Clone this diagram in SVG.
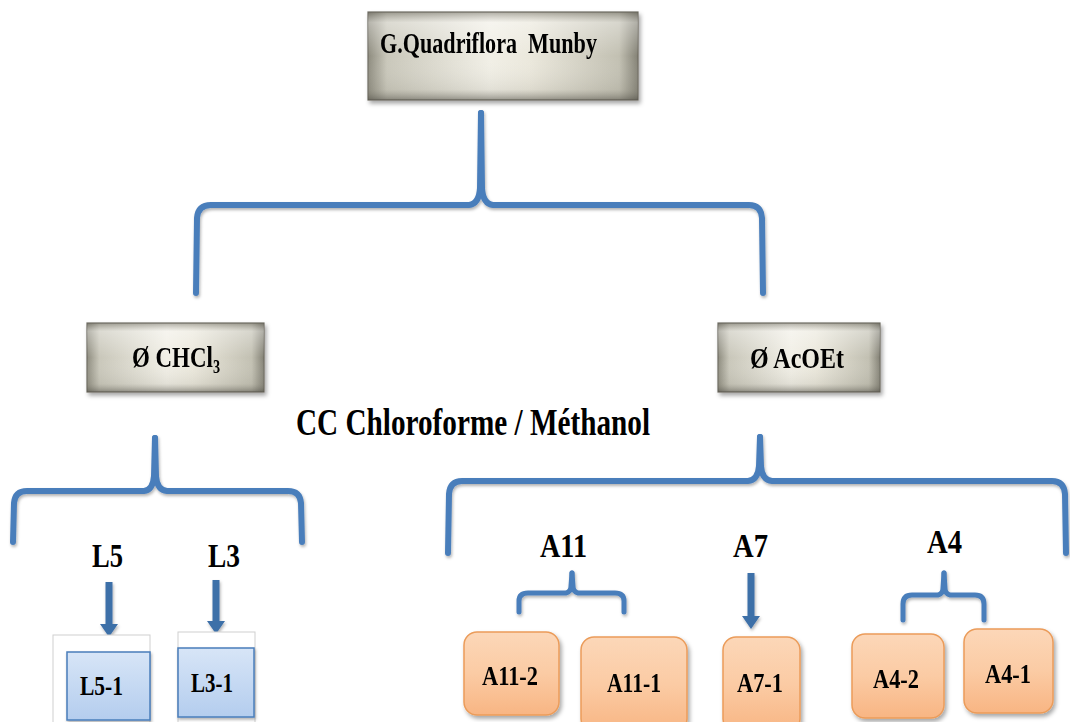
<svg xmlns="http://www.w3.org/2000/svg" width="1070" height="722" viewBox="0 0 1070 722">
<defs>
  <linearGradient id="metalH" x1="0" y1="0" x2="1" y2="0">
    <stop offset="0" stop-color="#8d8b7e"/>
    <stop offset="0.07" stop-color="#c9c7ba"/>
    <stop offset="0.45" stop-color="#f1efe6"/>
    <stop offset="0.6" stop-color="#ebe8dc"/>
    <stop offset="0.93" stop-color="#c2c0b2"/>
    <stop offset="1" stop-color="#838175"/>
  </linearGradient>
  <linearGradient id="metalV" x1="0" y1="0" x2="0" y2="1">
    <stop offset="0" stop-color="#5d5b52" stop-opacity="0.45"/>
    <stop offset="0.12" stop-color="#ffffff" stop-opacity="0.35"/>
    <stop offset="0.5" stop-color="#ffffff" stop-opacity="0"/>
    <stop offset="0.88" stop-color="#8c8a7e" stop-opacity="0.15"/>
    <stop offset="1" stop-color="#4e4c44" stop-opacity="0.55"/>
  </linearGradient>
  <linearGradient id="orange" x1="0" y1="0" x2="0" y2="1">
    <stop offset="0" stop-color="#fcd7b8"/>
    <stop offset="0.5" stop-color="#fbcba4"/>
    <stop offset="1" stop-color="#f8b583"/>
  </linearGradient>
  <linearGradient id="blue" x1="0" y1="0" x2="0" y2="1">
    <stop offset="0" stop-color="#d7e5f7"/>
    <stop offset="1" stop-color="#b4cdee"/>
  </linearGradient>
  <filter id="sh" x="-10%" y="-10%" width="130%" height="140%">
    <feDropShadow dx="2" dy="3" stdDeviation="2" flood-color="#000" flood-opacity="0.35"/>
  </filter>
  <filter id="shl" x="-10%" y="-10%" width="130%" height="140%">
    <feDropShadow dx="1" dy="2" stdDeviation="1.5" flood-color="#000" flood-opacity="0.3"/>
  </filter>
  <style>
    .t { font-family: "Liberation Serif", "Times New Roman", serif; font-weight: bold; fill: #000; }
    .brace { fill: none; stroke: #4a7ebb; stroke-width: 6; stroke-linecap: round; stroke-linejoin: round; }
    .brace-s { fill: none; stroke: #4a7ebb; stroke-width: 5; stroke-linecap: round; stroke-linejoin: round; }
    .arrow { fill: #3e6fa8; }
    .metal { stroke: #6e6c62; stroke-width: 1.2; }
    .orange { fill: url(#orange); stroke: #eb9c5a; stroke-width: 1.5; }
    .bluebox { fill: url(#blue); stroke: #4a7ebb; stroke-width: 1.5; }
    .faint { fill: #ffffff; stroke: #cfcfcf; stroke-width: 1; }
  </style>
</defs>
<rect width="1070" height="722" fill="#ffffff"/>

<!-- connectors -->
<g id="connectors" filter="url(#shl)">
  <path class="brace" d="M196,293 L197,218 Q198,205 211,205 L469,205 Q479,204 480,188 L481,113"/>
  <path class="brace" d="M763,293 L762,218 Q761,205 749,205 L493,205 Q483,204 482,188 L481,113"/>
  <path class="brace" d="M13,542 L14,503 Q15,491 27,491 L144,491 Q153,490 154,476 L155,438"/>
  <path class="brace" d="M302,542 L301,503 Q300,491 288,491 L167,491 Q157,490 156,476 L155,438"/>
  <path class="brace" d="M448,553 L449,494 Q450,481 462,481 L748,481 Q758,480 759,466 L760,437"/>
  <path class="brace" d="M1066,553 L1065,494 Q1064,481 1052,481 L772,481 Q762,480 761,466 L760,437"/>
  <path class="brace-s" d="M519,612 L519,601 Q519,593 528,593 L566,593 Q571,592 571,586 L572,573"/>
  <path class="brace-s" d="M624,612 L624,601 Q624,593 615,593 L578,593 Q573,592 573,586 L572,573"/>
  <path class="brace-s" d="M903,620 L903,604 Q903,595 912,595 L938,595 Q943,594 943,588 L944,573"/>
  <path class="brace-s" d="M984,620 L984,604 Q984,595 975,595 L950,595 Q945,594 945,588 L944,573"/>
  <polygon class="arrow" points="105.5,582 112.5,582 112.5,624 118,624 109,637 100,624 105.5,624"/>
  <polygon class="arrow" points="212.5,580 219.5,580 219.5,621 225,621 216,634 207,621 212.5,621"/>
  <polygon class="arrow" points="747.5,573 754.5,573 754.5,616 760,616 751,629 742,616 747.5,616"/>
</g>

<!-- top node -->
<g id="node-root" filter="url(#sh)">
  <rect class="metal" x="368" y="12" width="270" height="88" fill="url(#metalH)"/>
  <rect x="368" y="12" width="270" height="88" fill="url(#metalV)"/>
  <text class="t" x="380" y="53" font-size="29" textLength="217" lengthAdjust="spacingAndGlyphs" xml:space="preserve">G.Quadriflora  Munby</text>
</g>

<g id="node-chcl3" filter="url(#sh)">
  <rect class="metal" x="87" y="323" width="177" height="69" fill="url(#metalH)"/>
  <rect x="87" y="323" width="177" height="69" fill="url(#metalV)"/>
  <text class="t" x="132" y="367" font-size="29" textLength="88" lengthAdjust="spacingAndGlyphs">Ø CHCl<tspan font-size="18" dy="6">3</tspan></text>
</g>

<g id="node-acoet" filter="url(#sh)">
  <rect class="metal" x="718" y="323" width="162" height="69" fill="url(#metalH)"/>
  <rect x="718" y="323" width="162" height="69" fill="url(#metalV)"/>
  <text class="t" x="750" y="368" font-size="29" textLength="94" lengthAdjust="spacingAndGlyphs">Ø AcOEt</text>
</g>

<g id="label-cc">
  <text class="t" x="296" y="435" font-size="38" textLength="354" lengthAdjust="spacingAndGlyphs">CC Chloroforme / Méthanol</text>
</g>

<g id="label-L5"><text class="t" x="92" y="567" font-size="34" textLength="31" lengthAdjust="spacingAndGlyphs">L5</text></g>
<g id="label-L3"><text class="t" x="208" y="567" font-size="34" textLength="32" lengthAdjust="spacingAndGlyphs">L3</text></g>
<g id="label-A11"><text class="t" x="540" y="557" font-size="34" textLength="47" lengthAdjust="spacingAndGlyphs">A11</text></g>
<g id="label-A7"><text class="t" x="733" y="557" font-size="34" textLength="35" lengthAdjust="spacingAndGlyphs">A7</text></g>
<g id="label-A4"><text class="t" x="927" y="553" font-size="34" textLength="35" lengthAdjust="spacingAndGlyphs">A4</text></g>

<g id="node-L5-1">
  <rect class="faint" x="53" y="635" width="97" height="92"/>
  <rect class="bluebox" x="67" y="652" width="83" height="68" filter="url(#shl)"/>
  <text class="t" x="80" y="695" font-size="27" textLength="43" lengthAdjust="spacingAndGlyphs">L5-1</text>
</g>
<g id="node-L3-1">
  <rect class="faint" x="178" y="632" width="77" height="95"/>
  <rect class="bluebox" x="178" y="648" width="76" height="69" filter="url(#shl)"/>
  <text class="t" x="191" y="692" font-size="27" textLength="42" lengthAdjust="spacingAndGlyphs">L3-1</text>
</g>

<g id="node-A11-2" filter="url(#sh)">
  <rect class="orange" x="464" y="632" width="95" height="83" rx="13"/>
  <text class="t" x="482" y="685" font-size="28" textLength="56" lengthAdjust="spacingAndGlyphs">A11-2</text>
</g>
<g id="node-A11-1" filter="url(#sh)">
  <rect class="orange" x="581" y="637" width="106" height="95" rx="13"/>
  <text class="t" x="607" y="692" font-size="28" textLength="54" lengthAdjust="spacingAndGlyphs">A11-1</text>
</g>
<g id="node-A7-1" filter="url(#sh)">
  <rect class="orange" x="723" y="637" width="77" height="95" rx="13"/>
  <text class="t" x="737" y="692" font-size="28" textLength="46" lengthAdjust="spacingAndGlyphs">A7-1</text>
</g>
<g id="node-A4-2" filter="url(#sh)">
  <rect class="orange" x="852" y="634" width="92" height="84" rx="13"/>
  <text class="t" x="873" y="688" font-size="28" textLength="46" lengthAdjust="spacingAndGlyphs">A4-2</text>
</g>
<g id="node-A4-1" filter="url(#sh)">
  <rect class="orange" x="964" y="629" width="89" height="84" rx="13"/>
  <text class="t" x="985" y="683" font-size="28" textLength="46" lengthAdjust="spacingAndGlyphs">A4-1</text>
</g>
</svg>
